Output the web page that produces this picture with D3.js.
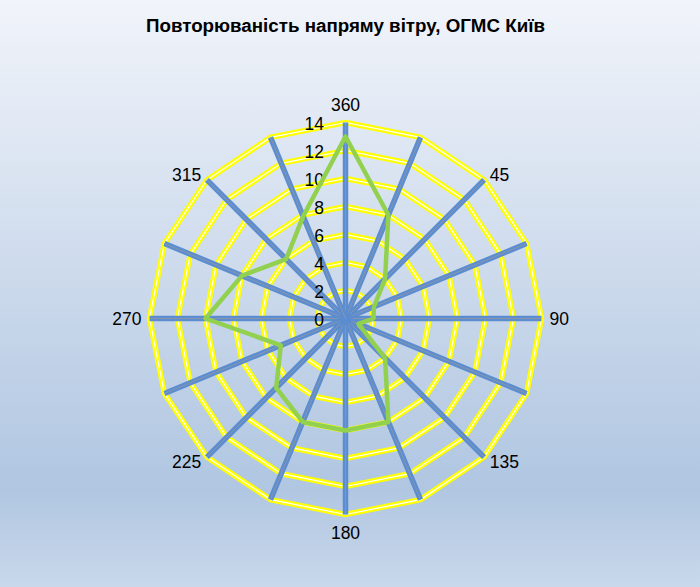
<!DOCTYPE html>
<html>
<head>
<meta charset="utf-8">
<script src="https://cdnjs.cloudflare.com/ajax/libs/d3/7.8.5/d3.min.js"></script>
<style>
  html, body { margin: 0; padding: 0; }
  body { width: 700px; height: 587px; overflow: hidden; }
  svg { display: block; font-family: "Liberation Sans", Arial, sans-serif; }
</style>
</head>
<body>
<div id="chart"></div>
<script>
// wind directions, degrees (16 rumbs); only multiples of 45 get a label
var directions = [360, 22.5, 45, 67.5, 90, 112.5, 135, 157.5, 180, 202.5, 225, 247.5, 270, 292.5, 315, 337.5];
// frequency of wind direction, %
var frequency = [13, 8, 4, 2.2, 2, 1, 4, 8, 8, 8, 7, 5, 10, 8, 6, 7.9];
var ticks = [0, 2, 4, 6, 8, 10, 12, 14];
var title = "Повторюваність напряму вітру, ОГМС Київ";

var width = 700, height = 587;
var cx = 345.5, cy = 318.5;

var svg = d3.select("#chart").append("svg")
    .attr("width", width)
    .attr("height", height);

// background gradient
var grad = svg.append("defs").append("linearGradient")
    .attr("id", "bg")
    .attr("x1", 0).attr("y1", 0).attr("x2", 0).attr("y2", 1);
grad.append("stop").attr("offset", "0%").attr("stop-color", "#f1f4fa");
grad.append("stop").attr("offset", "83%").attr("stop-color", "#b0c6e1");
grad.append("stop").attr("offset", "100%").attr("stop-color", "#c9d8eb");

svg.append("rect")
    .attr("width", width)
    .attr("height", height)
    .attr("fill", "url(#bg)");

svg.append("text")
    .attr("x", cx)
    .attr("y", 32)
    .attr("text-anchor", "middle")
    .attr("textLength", 399)
    .attr("lengthAdjust", "spacingAndGlyphs")
    .style("font-size", "18px")
    .style("font-weight", "bold")
    .attr("fill", "#000")
    .text(title);

var r = d3.scaleLinear().domain([0, d3.max(ticks)]).range([0, 196]);
var angle = d3.scaleLinear().domain([0, directions.length]).range([0, 2 * Math.PI]);

var g = svg.append("g").attr("transform", "translate(" + cx + "," + cy + ")");

// polygon rings: yellow with a thin white middle line
var ring = d3.lineRadial()
    .angle(function(d, i) { return angle(i); })
    .radius(function(d) { return r(d); })
    .curve(d3.curveLinearClosed);

var rings = ticks.filter(function(t) { return t > 0; });
rings.forEach(function(t) {
  var pts = directions.map(function() { return t; });
  g.append("path").attr("d", ring(pts))
      .attr("fill", "none").attr("stroke", "#ffff00").attr("stroke-width", 5.5);
  g.append("path").attr("d", ring(pts))
      .attr("fill", "none").attr("stroke", "#ffffff").attr("stroke-width", 1.2);
});

// spokes
var rmax = d3.max(ticks);
directions.forEach(function(d, i) {
  var a = angle(i);
  var x2 = Math.sin(a) * r(rmax), y2 = -Math.cos(a) * r(rmax);
  g.append("line")
      .attr("x1", 0).attr("y1", 0).attr("x2", x2).attr("y2", y2)
      .attr("stroke", "#5b8dd0").attr("stroke-width", 5.5);
  g.append("line")
      .attr("x1", 0).attr("y1", 0).attr("x2", x2).attr("y2", y2)
      .attr("stroke", "#8796ab").attr("stroke-width", 1);
});

// tick labels along the 360 spoke
g.selectAll("text.tick")
    .data(ticks)
    .enter().append("text")
    .attr("class", "tick")
    .attr("x", -21.5)
    .attr("y", function(d) { return -r(d) + 7; })
    .attr("text-anchor", "end")
    .style("font-size", "17.5px")
    .attr("fill", "#000")
    .text(function(d) { return d; });

// direction labels
directions.forEach(function(d, i) {
  if (d % 45 !== 0) return;
  var a = angle(i);
  var s = Math.sin(a), c = Math.cos(a);
  var ex = s * r(rmax), ey = -c * r(rmax);
  var vertical = Math.abs(c) > 0.9;
  var x = ex + s * 8;
  var y = ey - c * (vertical ? 11.5 : 7);
  var anchor = s > 0.1 ? "start" : (s < -0.1 ? "end" : "middle");
  var dy = vertical ? (c > 0 ? "0em" : "0.72em") : "0.36em";
  g.append("text")
      .attr("x", x).attr("y", y).attr("dy", dy)
      .attr("text-anchor", anchor)
      .style("font-size", "17.5px")
      .attr("fill", "#000")
      .text(d);
});

// frequency line
var line = d3.lineRadial()
    .angle(function(d, i) { return angle(i); })
    .radius(function(d) { return r(d); })
    .curve(d3.curveLinearClosed);

g.append("path")
    .datum(frequency)
    .attr("d", line)
    .attr("fill", "none")
    .attr("stroke", "#92d050")
    .attr("stroke-width", 4.5)
    .attr("stroke-linejoin", "round");
</script>
</body>
</html>
